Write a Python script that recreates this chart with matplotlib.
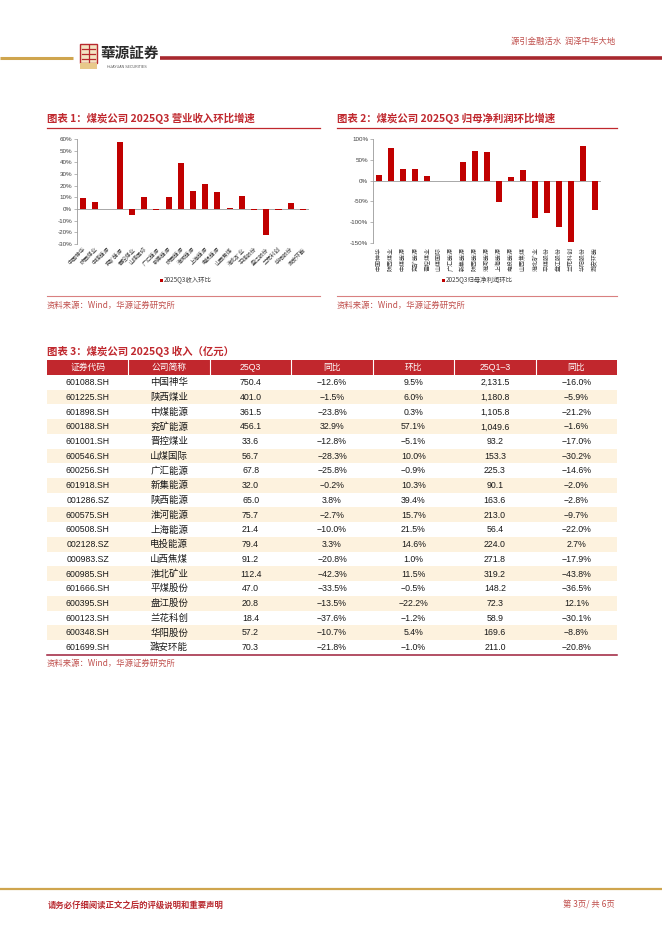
import matplotlib
matplotlib.use("Agg")
import matplotlib.pyplot as plt
from matplotlib.patches import Rectangle

plt.rcParams['font.family'] = ['Liberation Sans', 'Noto Sans CJK SC', 'DejaVu Sans']

# ---------------- data ----------------
codes = ["601088.SH", "601225.SH", "601898.SH", "600188.SH", "601001.SH", "600546.SH",
         "600256.SH", "601918.SH", "001286.SZ", "600575.SH", "600508.SH", "002128.SZ",
         "000983.SZ", "600985.SH", "601666.SH", "600395.SH", "600123.SH", "600348.SH",
         "601699.SH"]
companies = ["中国神华", "陕西煤业", "中煤能源", "兖矿能源", "晋控煤业", "山煤国际",
             "广汇能源", "新集能源", "陕西能源", "淮河能源", "上海能源", "电投能源",
             "山西焦煤", "淮北矿业", "平煤股份", "盘江股份", "兰花科创", "华阳股份",
             "潞安环能"]
rev_q3 = [750.4, 401.0, 361.5, 456.1, 33.6, 56.7, 67.8, 32.0, 65.0, 75.7, 21.4, 79.4,
          91.2, 112.4, 47.0, 20.8, 18.4, 57.2, 70.3]
rev_q3_yoy = [-12.6, -1.5, -23.8, 32.9, -12.8, -28.3, -25.8, -0.2, 3.8, -2.7, -10.0, 3.3,
              -20.8, -42.3, -33.5, -13.5, -37.6, -10.7, -21.8]
rev_q3_qoq = [9.5, 6.0, 0.3, 57.1, -5.1, 10.0, -0.9, 10.3, 39.4, 15.7, 21.5, 14.6,
              1.0, 11.5, -0.5, -22.2, -1.2, 5.4, -1.0]
rev_ytd = [2131.5, 1180.8, 1105.8, 1049.6, 93.2, 153.3, 225.3, 90.1, 163.6, 213.0, 56.4,
           224.0, 271.8, 319.2, 148.2, 72.3, 58.9, 169.6, 211.0]
rev_ytd_yoy = [-16.0, -5.9, -21.2, -1.6, -17.0, -30.2, -14.6, -2.0, -2.8, -9.7, -22.0, 2.7,
               -17.9, -43.8, -36.5, 12.1, -30.1, -8.8, -20.8]
profit_qoq = [13, 79, 29, 28, 11, -1, -1, 44, 72, 68, -51, 9, 26, -90, -79, -112, -148,
              84, -70]
table_cols = ["证券代码", "公司简称", "25Q3", "同比", "环比", "25Q1–3", "同比"]

title1 = "图表 1：煤炭公司 2025Q3 营业收入环比增速"
title2 = "图表 2：煤炭公司 2025Q3 归母净利润环比增速"
title3 = "图表 3：煤炭公司 2025Q3 收入（亿元）"
legend1 = "2025Q3收入环比"
legend2 = "2025Q3归母净利润环比"
source = "资料来源：Wind，华源证券研究所"

W, H = 662, 936
RED = "#C0282E"
BAR = "#C00000"
GOLD = "#CFA54E"
CJK = ['Noto Sans CJK SC', 'DejaVu Sans']

fig = plt.figure(figsize=(W / 100, H / 100), dpi=100)
pg = fig.add_axes([0, 0, 1, 1])
pg.set_xlim(0, W)
pg.set_ylim(H, 0)
pg.axis('off')


def fr(x0, y0, x1, y1):
    return [x0 / W, 1 - y1 / H, (x1 - x0) / W, (y1 - y0) / H]


def pct(v):
    return f"{v:.1f}%".replace('-', '−')


def num(v):
    return f"{v:,.1f}"


# ---------------- header ----------------
pg.plot([0, 73], [58, 58], color=GOLD, lw=2.2, solid_capstyle='butt')
pg.plot([160, 662], [58, 58], color="#A8282E", lw=2.6, solid_capstyle='butt')
# logo icon
pg.add_patch(Rectangle((80, 44), 17, 19, facecolor="#F3E3C3", edgecolor="#B8282E", lw=1.0))
for yy in (48.5, 53.5, 58.5):
    pg.plot([82, 95], [yy, yy], color="#B8282E", lw=0.9)
pg.plot([88.5, 88.5], [45, 62], color="#B8282E", lw=0.9)
pg.add_patch(Rectangle((80, 63), 17, 6, facecolor="#E8C98A", edgecolor="none"))
pg.text(100, 53, "華源証券", fontsize=10.5, fontweight='bold', color="#2A2A2A",
        family=['Noto Sans CJK TC', 'DejaVu Sans'], va='center', ha='left')
pg.text(127, 67.5, "HUAYUAN SECURITIES", fontsize=2.6, color="#555555", va='center', ha='center')
pg.text(615, 41, "源引金融活水  润泽中华大地", fontsize=6, color="#C0504D", family=CJK,
        va='center', ha='right')

# ---------------- chart titles ----------------
for x0, x1, t in ((47, 320, title1), (337, 617, title2)):
    pg.text(x0, 118, t, fontsize=7.5, fontweight='bold', color=RED, family=CJK,
            va='center', ha='left')
    pg.plot([x0, x1], [127.5, 127.5], color=RED, lw=0.9)
    pg.plot([x0, x1], [296, 296], color="#D98080", lw=0.8)
    pg.text(x0, 305, source, fontsize=6, color="#C0504D", family=CJK, va='center', ha='left')


def style_axis(ax):
    for s in ('top', 'right', 'bottom'):
        ax.spines[s].set_visible(False)
    ax.spines['left'].set_color('#9A9A9A')
    ax.spines['left'].set_linewidth(0.6)
    ax.axhline(0, color='#9A9A9A', lw=0.6, zorder=1)
    ax.tick_params(axis='y', length=2, width=0.5, color='#9A9A9A', labelsize=4.5,
                   labelcolor='#404040', pad=1.5)
    ax.tick_params(axis='x', length=0, labelsize=4.3, labelcolor='#404040')
    ax.set_facecolor('none')


# chart 1
ax1 = fig.add_axes(fr(77, 139, 309, 244))
x = list(range(len(companies)))
ax1.bar(x, rev_q3_qoq, width=0.5, color=BAR, zorder=2)
ax1.set_xlim(-0.5, len(companies) - 0.5)
ax1.set_ylim(-30, 60)
yt1 = list(range(-30, 61, 10))
ax1.set_yticks(yt1)
ax1.set_yticklabels([f"{v}%" for v in yt1])
ax1.set_xticks(x)
ax1.set_xticklabels(companies, rotation=45, ha='right', rotation_mode='anchor', family=CJK)
style_axis(ax1)
ax1.tick_params(axis='x', pad=2, labelsize=4.0)

# chart 2
ax2 = fig.add_axes(fr(373, 139, 601, 243))
ax2.bar(x, profit_qoq, width=0.5, color=BAR, zorder=2)
ax2.set_xlim(-0.5, len(companies) - 0.5)
ax2.set_ylim(-150, 100)
yt2 = list(range(-150, 101, 50))
ax2.set_yticks(yt2)
ax2.set_yticklabels([f"{v}%" for v in yt2])
ax2.set_xticks(x)
ax2.set_xticklabels(companies, rotation=90, ha='center', va='top', family=CJK)
style_axis(ax2)
ax2.tick_params(axis='x', pad=3)

# legends
pg.add_patch(Rectangle((159.5, 279), 3, 3, facecolor=BAR, edgecolor='none'))
pg.text(164, 280.7, legend1, fontsize=4.6, color='#404040', family=CJK, va='center', ha='left')
pg.add_patch(Rectangle((441.5, 279), 3, 3, facecolor=BAR, edgecolor='none'))
pg.text(446, 280.7, legend2, fontsize=4.6, color='#404040', family=CJK, va='center', ha='left')

# ---------------- table ----------------
pg.text(47, 351, title3, fontsize=7.5, fontweight='bold', color=RED, family=CJK,
        va='center', ha='left')
tx0, tx1 = 47, 617
cw = (tx1 - tx0) / len(table_cols)
hy0, hy1 = 360, 375
rh = 14.72
pg.add_patch(Rectangle((tx0, hy0), tx1 - tx0, hy1 - hy0, facecolor="#C1272D", edgecolor='none'))
for j, c in enumerate(table_cols):
    cx = tx0 + cw * (j + 0.5)
    pg.text(cx, (hy0 + hy1) / 2 + 0.3, c, fontsize=6.3, color='white', va='center', ha='center')
    if j > 0:
        pg.plot([tx0 + cw * j] * 2, [hy0, hy1], color='white', lw=0.8)

for i in range(len(codes)):
    y0 = hy1 + i * rh
    if i % 2 == 1:
        pg.add_patch(Rectangle((tx0, y0), tx1 - tx0, rh, facecolor="#FDF2DE", edgecolor='none'))
    vals = [codes[i], companies[i], num(rev_q3[i]), pct(rev_q3_yoy[i]), pct(rev_q3_qoq[i]),
            num(rev_ytd[i]), pct(rev_ytd_yoy[i])]
    for j, v in enumerate(vals):
        cx = tx0 + cw * (j + 0.5)
        fs = 6.8 if j == 1 else 6.3
        pg.text(cx, y0 + rh / 2 + 0.3, v, fontsize=fs, color='#1A1A1A', va='center', ha='center')

ybot = hy1 + len(codes) * rh
pg.plot([tx0, tx1], [ybot, ybot], color="#9E1F3A", lw=1.1)
pg.text(47, ybot + 9, source, fontsize=6, color="#C0504D", family=CJK, va='center', ha='left')

# ---------------- footer ----------------
pg.plot([0, 662], [889, 889], color=GOLD, lw=1.6)
pg.text(48, 905, "请务必仔细阅读正文之后的评级说明和重要声明", fontsize=6, fontweight='bold',
        color="#B8282E", family=CJK, va='center', ha='left')
pg.text(615, 905, "第 3页/ 共 6页", fontsize=6, color="#C0504D", family=CJK,
        va='center', ha='right')

fig.savefig("out.png", dpi=100)
